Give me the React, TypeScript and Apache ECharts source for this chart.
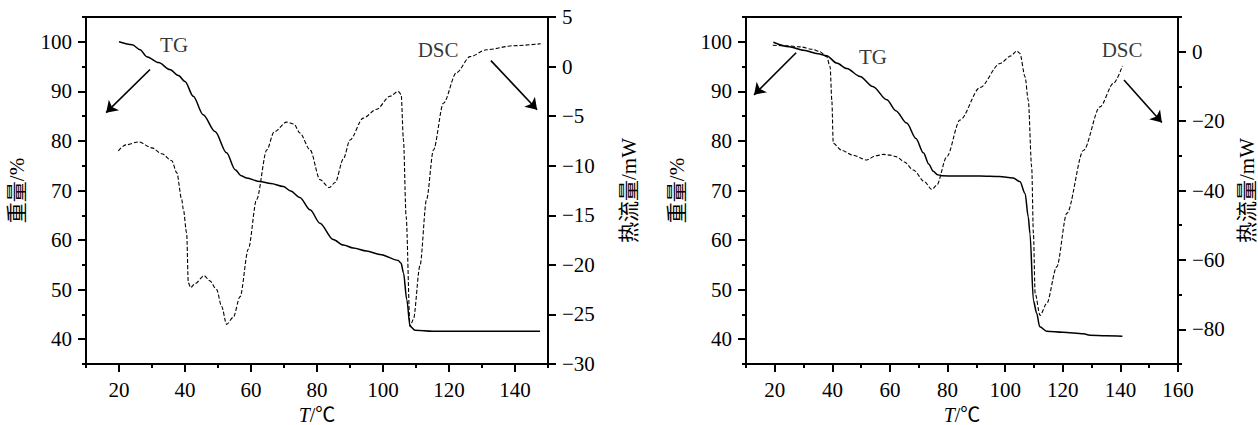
import React, { useEffect, useRef } from "react";
import * as echarts from "echarts";

// ---------- Left panel data ----------
const leftTgT = [20, 24, 26.4, 28.4, 32, 35.4, 38, 40, 42.5, 45.5, 49.1, 52.6, 55.2, 57, 58.7, 62.7, 66, 69.8, 72, 74.8, 77.9, 80.9, 84.9, 88, 91, 95, 99.1, 104.6, 105.5, 106.2, 107.2, 108.2, 109.7, 115, 125, 135, 147.6];
const leftTgW = [100, 99.4, 98.4, 97, 95.8, 94.4, 93.2, 92, 89, 85.3, 81.9, 77.6, 74.2, 73, 72.5, 71.8, 71.4, 70.8, 69.9, 68.6, 66.1, 63.4, 60.1, 59, 58.4, 57.8, 57.1, 55.9, 55.3, 53.4, 48, 42.6, 41.8, 41.6, 41.6, 41.6, 41.6];
const leftDscT = [19.8, 22, 25.9, 30, 33, 36, 37.5, 39, 39.5, 40.5, 41, 41.7, 43, 45.8, 47.5, 49.6, 51.1, 52.6, 54.6, 56.7, 59.2, 61.7, 64.8, 67, 70.8, 73, 74.8, 77.9, 80.9, 83.7, 85.5, 88, 90, 94, 98.1, 102.1, 104.6, 105.5, 106.2, 107, 108.2, 109.2, 111.2, 113.2, 115.3, 118.3, 122.3, 126.4, 131.4, 139.5, 147.8];
const leftDscH = [-8.5, -7.9, -7.6, -8.2, -8.8, -9.5, -10.7, -13.4, -14.4, -16.8, -21.8, -22.3, -21.9, -21.1, -21.6, -22.5, -24.2, -26, -25.3, -23.2, -18.4, -13.4, -8.4, -6.6, -5.6, -5.8, -6.7, -8.4, -11.4, -12.2, -11.7, -9.3, -7.4, -5.2, -4.3, -3.0, -2.5, -2.8, -7.4, -15.1, -26.2, -25.5, -20.1, -13.4, -8.4, -3.7, -0.6, 1.0, 1.7, 2.1, 2.3];

// ---------- Right panel data ----------
const rightTgT = [19.5, 25, 30, 35, 38, 41.5, 45, 49.6, 54, 58.9, 62, 65.8, 69, 71.6, 73.5, 75, 76.5, 78, 85, 91.3, 98, 102.8, 105.1, 106.9, 108, 108.6, 109.8, 110.9, 112, 114.4, 120, 127.2, 129.4, 135, 140.7];
const rightTgW = [99.9, 99.0, 98.3, 97.6, 97.2, 95.7, 94.6, 93, 91, 88.3, 86.1, 83.6, 80.5, 77.6, 75.3, 73.9, 73.2, 73, 72.9, 72.9, 72.8, 72.5, 71.8, 69.4, 64.7, 61.3, 47.8, 45.3, 42.5, 41.6, 41.4, 41.1, 40.8, 40.7, 40.6];
const rightDscT = [19.3, 24, 28.8, 33, 35.7, 38, 39.2, 39.8, 40.3, 43.2, 47, 51.9, 55, 57.7, 60, 62.3, 65, 68.1, 72, 74.5, 76.2, 79.7, 84.3, 91.3, 98.2, 102, 104, 105.1, 106.9, 108, 109.2, 109.8, 110.4, 112.1, 114.4, 117.9, 121.4, 127.2, 132.9, 137.6, 140.7];
const rightDscH = [1.85, 1.7, 1.4, 0.7, 0, -1.4, -4.3, -13.9, -26.4, -28.4, -29.8, -31.2, -30.0, -29.6, -29.8, -30.3, -31.8, -34.1, -37.5, -39.7, -38.5, -30.3, -19.7, -10.3, -3.4, -1.2, 0.2, -0.5, -7.2, -13.9, -33.2, -52.4, -69.7, -76, -72.6, -62, -46.6, -28.4, -15.9, -9.1, -4.1];

// ---------- Tick values ----------
const leftXMajor = [20, 40, 60, 80, 100, 120, 140];
const rightXMajor = [20, 40, 60, 80, 100, 120, 140, 160];
const weightMajor = [40, 50, 60, 70, 80, 90, 100];
const rightHeatMajor = [0, -20, -40, -60, -80];

// ---------- Annotations (data coords in T / weight space) ----------
const leftLabels = [
  { name: "TG", value: [36.7, 99.4] },
  { name: "DSC", value: [116.7, 98.4] },
];
const leftArrows = [
  [[29.4, 94.4], [16.1, 85.7]],
  [[132.7, 96.2], [146.7, 86.3]],
];
const rightLabels = [
  { name: "TG", value: [54.1, 97] },
  { name: "DSC", value: [140.6, 98.4] },
];
const rightArrows = [
  [[27.4, 97.8], [12.8, 89.3]],
  [[141.25, 92.3], [154.4, 83.7]],
];

const FONT = "Liberation Serif, Times New Roman, Noto Sans CJK SC, serif";
const FS = 21;
const BLACK = "#000";

const zip = (a: number[], b: number[]) => a.map((v, i) => [v, b[i]]);
const fmtNum = (v: number) => (v < 0 ? "\u2212" + -v : String(v));

const lineStyle = { color: BLACK, width: 2 };
const labelStyle = { color: BLACK, fontSize: FS, fontFamily: FONT };

function xAxes(grid: number, max: number, majors: number[]) {
  return [
    {
      type: "value", gridIndex: grid, position: "bottom", offset: 0, min: 10, max, interval: 10,
      axisLine: { onZero: false, lineStyle },
      axisTick: { length: 4, lineStyle },
      axisLabel: { show: false },
      splitLine: { show: false },
    },
    {
      type: "value", gridIndex: grid, position: "bottom", offset: 0, min: 10, max, interval: 10,
      axisLine: { show: false, onZero: false },
      axisTick: { length: 8, lineStyle, customValues: majors },
      axisLabel: { ...labelStyle, margin: 15, customValues: majors, formatter: fmtNum },
      splitLine: { show: false },
      name: "{i|T}/℃",
      nameLocation: "middle",
      nameGap: 37,
      nameTextStyle: {
        ...labelStyle,
        fontSize: 20,
        lineHeight: 20,
        rich: { i: { ...labelStyle, fontSize: 20, lineHeight: 20, fontStyle: "italic" } },
      },
    },
  ];
}

function leftYAxes(grid: number) {
  return [
    {
      type: "value", gridIndex: grid, position: "left", offset: 0, min: 35, max: 105, interval: 5,
      axisLine: { show: true, onZero: false, lineStyle },
      axisTick: { show: true, length: 4, lineStyle },
      axisLabel: { show: false },
      splitLine: { show: false },
    },
    {
      type: "value", gridIndex: grid, position: "left", offset: 0, min: 35, max: 105, interval: 5,
      axisLine: { show: false, onZero: false },
      axisTick: { show: true, length: 8, lineStyle, customValues: weightMajor },
      axisLabel: { ...labelStyle, margin: 14, customValues: weightMajor },
      splitLine: { show: false },
      name: "重量/%",
      nameLocation: "middle",
      nameGap: 59,
      nameRotate: 90,
      nameTextStyle: { ...labelStyle },
    },
  ];
}

const gridBase = {
  top: 17, bottom: 61, show: true, borderColor: BLACK, borderWidth: 2,
  containLabel: false, outerBoundsMode: "none",
};

const option: any = {
  animation: false,
  backgroundColor: "#fff",
  textStyle: { fontFamily: FONT },
  grid: [
    { ...gridBase, left: 86, right: 710 },
    { ...gridBase, left: 746, right: 80 },
  ],
  xAxis: [...xAxes(0, 150, leftXMajor), ...xAxes(1, 160, rightXMajor)],
  yAxis: [
    ...leftYAxes(0),
    {
      type: "value", gridIndex: 0, position: "right", offset: 0, min: -30, max: 5, interval: 5,
      axisLine: { show: true, onZero: false, lineStyle },
      axisTick: { show: true, length: 8, lineStyle },
      axisLabel: { ...labelStyle, margin: 14, formatter: fmtNum },
      splitLine: { show: false },
      name: "热流量/mW",
      nameLocation: "middle",
      nameGap: 70,
      nameRotate: 90,
      nameTextStyle: { ...labelStyle },
    },
    ...leftYAxes(1),
    {
      type: "value", gridIndex: 1, position: "right", offset: 0, min: -90, max: 10, interval: 10,
      axisLine: { show: true, onZero: false, lineStyle },
      axisTick: { show: true, length: 4, lineStyle },
      axisLabel: { show: false },
      splitLine: { show: false },
    },
    {
      type: "value", gridIndex: 1, position: "right", offset: 0, min: -90, max: 10, interval: 10,
      axisLine: { show: false, onZero: false },
      axisTick: { show: true, length: 8, lineStyle, customValues: rightHeatMajor },
      axisLabel: { ...labelStyle, margin: 14, customValues: rightHeatMajor, formatter: fmtNum },
      splitLine: { show: false },
      name: "热流量/mW",
      nameLocation: "middle",
      nameGap: 58,
      nameRotate: 90,
      nameTextStyle: { ...labelStyle, lineHeight: 21 },
    },
  ],
  series: [
    {
      type: "line", xAxisIndex: 0, yAxisIndex: 0, data: zip(leftTgT, leftTgW),
      showSymbol: false, smooth: 0.3, smoothMonotone: "x",
      lineStyle: { color: BLACK, width: 1.5 },
      markLine: {
        silent: true, symbol: ["none", "arrow"], symbolSize: 11,
        lineStyle: { color: BLACK, width: 1.6, type: "solid" },
        label: { show: false },
        data: leftArrows.map(([a, b]) => [{ coord: a }, { coord: b }]),
      },
    },
    {
      type: "line", xAxisIndex: 0, yAxisIndex: 2, data: zip(leftDscT, leftDscH),
      showSymbol: false, smooth: 0.3, smoothMonotone: "x",
      lineStyle: { color: BLACK, width: 1.1, type: [4, 2] },
    },
    {
      type: "scatter", xAxisIndex: 0, yAxisIndex: 0, symbolSize: 0, data: leftLabels,
      label: { show: true, position: "inside", formatter: "{b}", ...labelStyle },
    },
    {
      type: "line", xAxisIndex: 2, yAxisIndex: 3, data: zip(rightTgT, rightTgW),
      showSymbol: false, smooth: 0.3, smoothMonotone: "x",
      lineStyle: { color: BLACK, width: 1.5 },
      markLine: {
        silent: true, symbol: ["none", "arrow"], symbolSize: 11,
        lineStyle: { color: BLACK, width: 1.6, type: "solid" },
        label: { show: false },
        data: rightArrows.map(([a, b]) => [{ coord: a }, { coord: b }]),
      },
    },
    {
      type: "line", xAxisIndex: 2, yAxisIndex: 5, data: zip(rightDscT, rightDscH),
      showSymbol: false, smooth: 0.3, smoothMonotone: "x",
      lineStyle: { color: BLACK, width: 1.1, type: [4, 2] },
    },
    {
      type: "scatter", xAxisIndex: 2, yAxisIndex: 3, symbolSize: 0, data: rightLabels,
      label: { show: true, position: "inside", formatter: "{b}", ...labelStyle },
    },
  ],
};

export default function App() {
  const ref = useRef<HTMLDivElement>(null);
  useEffect(() => {
    const chart = echarts.init(ref.current!, null, { renderer: "svg" });
    chart.setOption(option);
    return () => chart.dispose();
  }, []);
  return (
    <div
      ref={ref}
      style={{ position: "absolute", left: 0, top: 0, width: 1258, height: 425, background: "#fff" }}
    />
  );
}
